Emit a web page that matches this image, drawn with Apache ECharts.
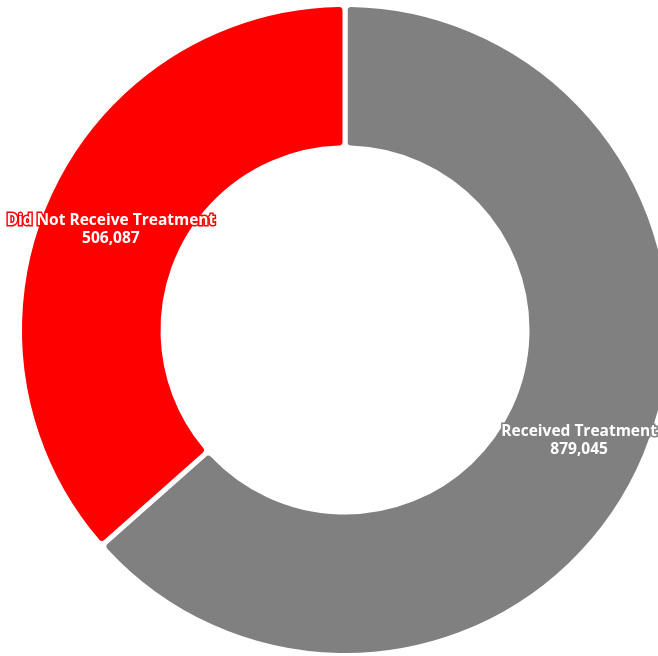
<!DOCTYPE html>
<html>
<head>
<meta charset="utf-8">
<script src="https://cdn.jsdelivr.net/npm/echarts@6/dist/echarts.min.js"></script>
<style>
  html, body { margin: 0; padding: 0; background: #fff; }
  #chart { width: 658px; height: 656px; }
</style>
</head>
<body>
<div id="chart"></div>
<script>
// Treatment status breakdown
const categories = ['Received Treatment', 'Did Not Receive Treatment'];
const counts = [879045, 506087];
const colors = ['#808080', '#ff0000'];

const chart = echarts.init(document.getElementById('chart'), null, { renderer: 'canvas' });

const fmt = n => n.toLocaleString('en-US');

chart.setOption({
  animation: false,
  series: [{
    type: 'pie',
    center: [345, 330],
    radius: [182, 325.5],
    startAngle: 90,
    clockwise: true,
    avoidLabelOverlap: false,
    itemStyle: {
      borderColor: '#ffffff',
      borderWidth: 5,
      borderRadius: 6
    },
    label: {
      show: true,
      position: 'inside',
      formatter: p => p.name + '\n' + fmt(p.value),
      color: '#ffffff',
      fontFamily: 'Open Sans',
      fontWeight: 'bold',
      fontSize: 15.5,
      lineHeight: 18,
      offset: [0, 5],
      textBorderColor: 'inherit',
      textBorderWidth: 3
    },
    labelLine: { show: false },
    emphasis: { disabled: true },
    data: categories.map((c, i) => ({
      name: c,
      value: counts[i],
      itemStyle: { color: colors[i] },
      label: { textBorderColor: colors[i] }
    }))
  }]
});
</script>
</body>
</html>
